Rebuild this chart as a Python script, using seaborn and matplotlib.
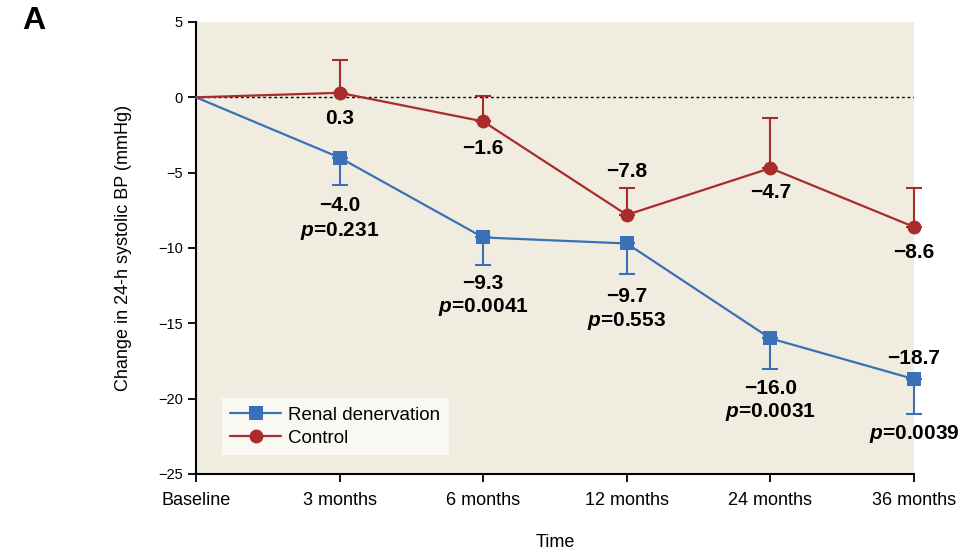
import matplotlib
matplotlib.use("Agg")
import matplotlib.pyplot as plt
import seaborn as sns
import pandas as pd
import numpy as np

# Time points and mean change in 24-h systolic BP (mmHg)
timepoints = ["Baseline", "3 months", "6 months", "12 months", "24 months", "36 months"]
rdn_mean = [0.0, -4.0, -9.3, -9.7, -16.0, -18.7]
rdn_err = [0.0, 1.8, 1.85, 2.0, 2.0, 2.3]          # drawn downward
ctrl_mean = [0.0, 0.3, -1.6, -7.8, -4.7, -8.6]
ctrl_err = [0.0, 2.2, 1.7, 1.8, 3.3, 2.6]           # drawn upward
p_values = [None, "0.231", "0.0041", "0.553", "0.0031", "0.0039"]

BLUE = "#3A70B8"
RED = "#AA2B2B"
BG = "#F0EDE0"

sns.set_theme(style="ticks")
plt.rcParams["font.family"] = ["Liberation Sans", "DejaVu Sans"]
plt.rcParams["mathtext.fontset"] = "custom"
plt.rcParams["mathtext.it"] = "Liberation Sans:italic:bold"
plt.rcParams["mathtext.rm"] = "Liberation Sans:bold"
plt.rcParams["axes.unicode_minus"] = True
for key in ("text.color", "axes.labelcolor", "xtick.color", "ytick.color"):
    plt.rcParams[key] = "black"

LBL_FONT = ["Liberation Sans", "DejaVu Sans"]

x = np.arange(len(timepoints))
df = pd.DataFrame({
    "t": np.concatenate([x, x]),
    "change": rdn_mean + ctrl_mean,
    "group": ["Renal denervation"] * len(x) + ["Control"] * len(x),
})

fig = plt.figure(figsize=(9.69, 5.54), dpi=100)
ax = fig.add_axes([196 / 969, 1 - 474 / 554, (914 - 196) / 969, (474 - 22) / 554])
ax.set_facecolor(BG)

ax.axhline(0, color="black", linestyle=(0, (2, 2)), linewidth=1.0, zorder=1)

# one-sided error bars
eb1 = ax.errorbar(x[1:], rdn_mean[1:], yerr=[rdn_err[1:], np.zeros(len(x) - 1)],
                  fmt="none", ecolor=BLUE, elinewidth=1.5, capsize=5.5, capthick=1.5, zorder=2)
eb2 = ax.errorbar(x[1:], ctrl_mean[1:], yerr=[np.zeros(len(x) - 1), ctrl_err[1:]],
                  fmt="none", ecolor=RED, elinewidth=1.5, capsize=5.5, capthick=1.5, zorder=2)
for eb in (eb1, eb2):
    for art in eb.lines[1] + eb.lines[2]:
        art.set_clip_on(False)

sns.lineplot(data=df, x="t", y="change", hue="group", style="group",
             palette={"Renal denervation": BLUE, "Control": RED},
             markers={"Renal denervation": "s", "Control": "o"},
             dashes=False, markersize=10, markeredgewidth=0, linewidth=1.6,
             ax=ax, zorder=3)

# no symbol at baseline; keep end markers unclipped
for line in ax.get_lines():
    if line.get_marker() in ("s", "o"):
        line.set_markevery(list(range(1, len(x))))
        line.set_clip_on(False)

ax.set_xlim(0, len(x) - 1)
ax.set_ylim(-25, 5)
ax.set_xticks(x)
ax.set_xticklabels(timepoints, fontsize=13)
ax.set_yticks(np.arange(-25, 6, 5))
ax.set_yticklabels([str(v).replace("-", "\u2212") for v in range(-25, 6, 5)], fontsize=10.5)
ax.tick_params(axis="both", direction="out", length=6, width=1.3, color="black")
ax.tick_params(axis="x", pad=7)
ax.set_xlabel("Time", fontsize=13, labelpad=18)
ax.set_ylabel("Change in 24-h systolic BP (mmHg)", fontsize=13, labelpad=19)
for s in ["top", "right"]:
    ax.spines[s].set_visible(False)
for s in ["left", "bottom"]:
    ax.spines[s].set_linewidth(1.5)
    ax.spines[s].set_color("black")

leg = ax.legend(loc="lower left", bbox_to_anchor=(0.036, 0.042), borderaxespad=0,
                fontsize=13.5, frameon=True, fancybox=False, handlelength=2.7,
                handletextpad=0.4, borderpad=0.45, labelspacing=0.3)
leg.get_frame().set_facecolor("#F9F8F3")
leg.get_frame().set_edgecolor("none")
leg.get_frame().set_alpha(1)


def fmt(v):
    return f"{v:.1f}".replace("-", "\u2212")


def label(xi, yi, text, dy_px):
    ax.annotate(text, xy=(xi, yi), xytext=(0, -dy_px * 0.72), textcoords="offset points",
                ha="center", va="center", fontsize=15, fontweight="bold",
                family=LBL_FONT, color="black", annotation_clip=False, zorder=5)


# control group values
ctrl_offsets = [None, 26, 27, -43, 24, 26]
for i in range(1, len(x)):
    label(x[i], ctrl_mean[i], fmt(ctrl_mean[i]), ctrl_offsets[i])

# renal denervation values and p-values
rdn_offsets = [None, 48, 46, 53, 50, -21]
p_offsets = [None, 73, 70, 78, 74, 55]
for i in range(1, len(x)):
    label(x[i], rdn_mean[i], fmt(rdn_mean[i]), rdn_offsets[i])
    label(x[i], rdn_mean[i], r"$\mathit{p}$=" + p_values[i], p_offsets[i])

fig.text(22 / 969, 1 - 21 / 554, "A", fontsize=23, fontweight="bold",
         family=LBL_FONT, color="black", ha="left", va="center")

fig.savefig("out.png", dpi=100)
